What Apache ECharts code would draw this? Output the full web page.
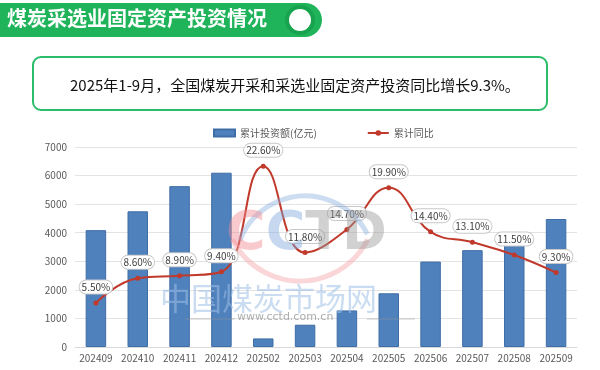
<!DOCTYPE html>
<html><head><meta charset="utf-8">
<script src="https://cdn.jsdelivr.net/npm/echarts@6/dist/echarts.min.js"></script>
<style>html,body{margin:0;padding:0;background:#fff}#c{width:600px;height:370px}</style>
</head><body><div id="c"></div>
<script>
var categories = ['202409','202410','202411','202412','202502','202503','202504','202505','202506','202507','202508','202509'];
var investValues = [4090, 4750, 5630, 6100, 300, 780, 1280, 1880, 2990, 3390, 3840, 4480];
var growthValues = [5.5, 8.6, 8.9, 9.4, 22.6, 11.8, 14.7, 19.9, 14.4, 13.1, 11.5, 9.3];
var leftTicks = [0, 1000, 2000, 3000, 4000, 5000, 6000, 7000];
var titleText = '煤炭采选业固定资产投资情况';
var summaryText = '2025年1-9月，全国煤炭开采和采选业固定资产投资同比增长9.3%。';
var seriesNames = ['累计投资额(亿元)', '累计同比'];

var chart = echarts.init(document.getElementById('c'), null, {renderer: 'canvas'});
var font = '"Noto Sans CJK SC", "Noto Sans", sans-serif';
var wmFont = 'bold 54px "DejaVu Sans", sans-serif';
chart.setOption({
  animation: false,
  textStyle: {fontFamily: font},
  legend: {
    top: 123, left: 208, itemGap: 50, itemWidth: 21, itemHeight: 7,
    textStyle: {fontSize: 10, color: '#595959', fontFamily: font},
    data: [{name: seriesNames[0], icon: 'rect'}, {name: seriesNames[1]}]
  },
  grid: {left: 75, right: 23, top: 147, bottom: 23, containLabel: false},
  xAxis: {
    type: 'category', data: categories,
    axisLine: {lineStyle: {color: '#d9d9d9'}},
    axisTick: {show: false},
    axisLabel: {color: '#595959', fontSize: 10, margin: 6, interval: 0, fontFamily: font}
  },
  yAxis: [{
    type: 'value', min: leftTicks[0], max: leftTicks[leftTicks.length-1], interval: 1000,
    axisLine: {show: false}, axisTick: {show: false},
    axisLabel: {color: '#595959', fontSize: 10, margin: 8, fontFamily: font, formatter: function(v){ return String(v); }},
    splitLine: {lineStyle: {color: '#e3e3e3', width: 1}}
  }, {
    type: 'value', min: 0, max: 25, show: false, splitLine: {show: false}
  }],
  series: [{
    name: seriesNames[0], type: 'bar', data: investValues, barWidth: '49%',
    itemStyle: {color: '#4f81bd', borderColor: '#3f6ea6', borderWidth: 1}
  }, {
    name: seriesNames[1], type: 'line', yAxisIndex: 1, data: growthValues,
    smooth: 0.45, symbol: 'circle', symbolSize: 5,
    lineStyle: {color: '#c0392b', width: 2},
    itemStyle: {color: '#c0392b'},
    label: {
      show: true, position: 'top', distance: 7,
      formatter: function(p){ return p.value.toFixed(2) + '%'; },
      fontSize: 10, color: '#404040', fontFamily: font,
      backgroundColor: '#fff', borderColor: '#c8c8c8', borderWidth: 1,
      borderRadius: 8, padding: [2, 2, 1, 2]
    },
    z: 5
  }],
  graphic: [
    {type: 'rect', left: 0, top: 3, shape: {width: 322, height: 34, r: [0, 17, 17, 0]}, style: {fill: '#1fb35a'}, z: 10},
    {type: 'circle', shape: {cx: 300, cy: 20, r: 15}, style: {fill: '#18a34f'}, z: 11},
    {type: 'circle', shape: {cx: 300, cy: 20, r: 11}, style: {fill: '#fff'}, z: 12},
    {type: 'text', left: 7, top: 8, style: {text: titleText, fill: '#fff', font: 'bold 20px ' + font, shadowColor: 'rgba(0,0,0,0.25)', shadowBlur: 2, shadowOffsetX: 1, shadowOffsetY: 1}, z: 12},
    {type: 'rect', shape: {x: 33, y: 57, width: 514, height: 53, r: 8}, style: {fill: 'none', stroke: '#2dbd6a', lineWidth: 2}, z: 10},
    {type: 'text', left: 70, top: 78, style: {text: summaryText, fill: '#111', font: '15px ' + font}, z: 12},
    {type: 'arc', shape: {cx: 305, cy: 266, r: 70, startAngle: Math.PI*1.12, endAngle: Math.PI*1.85}, style: {stroke: '#8fb3e0', lineWidth: 5, fill: 'none', opacity: 0.45}, z: 20, silent: true},
    {type: 'arc', shape: {cx: 300, cy: 205, r: 76, startAngle: Math.PI*0.15, endAngle: Math.PI*0.85}, style: {stroke: '#f3a3a8', lineWidth: 5, fill: 'none', opacity: 0.45}, z: 20, silent: true},
    {type: 'text', left: 226, top: 208, style: {
      text: '{p|C}{b|C}{g|TD}', font: wmFont,
      rich: {p: {fill: '#f08a92', font: wmFont}, b: {fill: '#7fa8dc', font: wmFont}, g: {fill: '#9a9a9a', font: wmFont}},
      opacity: 0.45}, z: 20, silent: true},
    {type: 'text', left: 160, top: 283, style: {text: '中国煤炭市场网', fill: '#9fc0e6', font: '31px ' + font, opacity: 0.55}, z: 20, silent: true},
    {type: 'text', left: 237, top: 312, style: {text: 'www.cctd.com.cn', fill: '#8a8a8a', font: '11px "DejaVu Sans", sans-serif', opacity: 0.7}, z: 20, silent: true},
    {type: 'line', shape: {x1: 185, y1: 319, x2: 235, y2: 319}, style: {stroke: '#999', lineWidth: 1, opacity: 0.5}, z: 20, silent: true},
    {type: 'line', shape: {x1: 367, y1: 319, x2: 415, y2: 319}, style: {stroke: '#999', lineWidth: 1, opacity: 0.5}, z: 20, silent: true}
  ]
});
</script></body></html>
